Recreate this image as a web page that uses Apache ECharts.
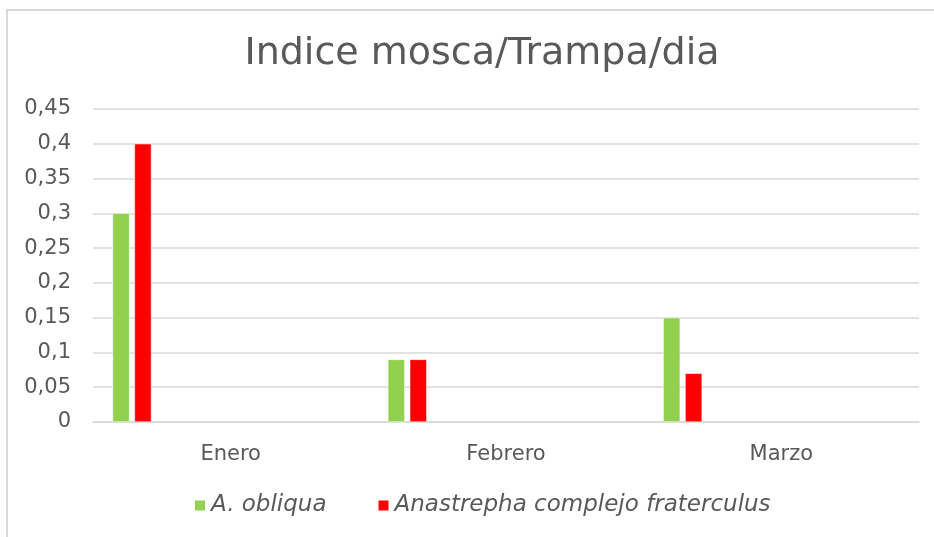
<!DOCTYPE html>
<html>
<head>
<meta charset="utf-8">
<script src="https://cdn.jsdelivr.net/npm/echarts@6/dist/echarts.min.js"></script>
<style>html,body{margin:0;padding:0;background:#fff;}#c{width:934px;height:537px;}</style>
</head>
<body>
<div id="c"></div>
<script>
var titleText = 'Indice mosca/Trampa/dia';
var categories = ['Enero', 'Febrero', 'Marzo'];
var seriesNames = ['A. obliqua', 'Anastrepha complejo fraterculus'];
var obliqua = [0.30, 0.09, 0.15];
var fraterculus = [0.40, 0.09, 0.07];
var yTicks = [0, 0.05, 0.1, 0.15, 0.2, 0.25, 0.3, 0.35, 0.4, 0.45];

var FONT = 'DejaVu Sans';
var TXT = '#595959';
var series = [
  { name: seriesNames[0], type: 'bar', data: obliqua, barWidth: 17, barGap: '29%',
    itemStyle: { color: '#92D050', borderColor: '#ffffff', borderWidth: 0.5 } },
  { name: seriesNames[1], type: 'bar', data: fraterculus, barWidth: 17, barGap: '29%',
    itemStyle: { color: '#FF0000', borderColor: '#ffffff', borderWidth: 0.5 } }
];
// empty placeholder series that occupy the remaining slots of the Excel cluster
for (var i = 0; i < 9; i++) {
  series.push({ name: 'empty' + i, type: 'bar', data: [], barWidth: 17, barGap: '29%' });
}
var chart = echarts.init(document.getElementById('c'), null, { renderer: 'canvas' });
chart.setOption({
  animation: false,
  backgroundColor: '#ffffff',
  title: {
    text: titleText, left: 477, textAlign: 'center', top: 30,
    textStyle: { fontFamily: FONT, fontSize: 38, fontWeight: 'normal', color: TXT }
  },
  graphic: [{
    type: 'rect', shape: { x: 7, y: 10, width: 940, height: 540 },
    style: { fill: 'none', stroke: '#D9D9D9', lineWidth: 2 }, silent: true
  }],
  legend: {
    data: seriesNames, bottom: 15, left: 188, itemWidth: 12, itemHeight: 12, itemGap: 50,
    icon: 'rect',
    textStyle: { fontFamily: FONT, fontSize: 23, fontStyle: 'italic', color: TXT }
  },
  grid: { left: 93, right: 15, top: 109, bottom: 115, containLabel: false },
  xAxis: {
    type: 'category', data: categories,
    axisLine: { show: true, lineStyle: { color: '#D9D9D9', width: 1.5 } },
    axisTick: { show: false },
    axisLabel: { fontFamily: FONT, fontSize: 21, color: TXT, margin: 22 }
  },
  yAxis: {
    type: 'value', min: yTicks[0], max: yTicks[yTicks.length - 1], interval: 0.05,
    axisLine: { show: false }, axisTick: { show: false },
    splitLine: { lineStyle: { color: '#D9D9D9', width: 1.5 } },
    axisLabel: {
      fontFamily: FONT, fontSize: 21, color: TXT, margin: 22,
      formatter: function (v) { return String(Number(v.toFixed(2))).replace('.', ','); }
    }
  },
  series: series
});
</script>
</body>
</html>
